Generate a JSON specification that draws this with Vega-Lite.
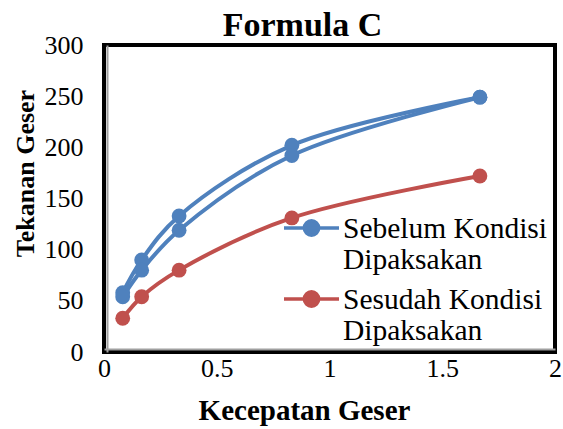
{
  "$schema": "https://vega.github.io/schema/vega-lite/v6.json",
  "width": 451,
  "height": 307,
  "autosize": "none",
  "padding": {"left": 104, "top": 45, "right": 8, "bottom": 77},
  "background": "white",
  "title": {
    "text": "Formula C",
    "font": "Liberation Serif",
    "fontSize": 34,
    "fontWeight": "bold",
    "color": "black",
    "dx": -27,
    "dy": 17,
    "offset": 6
  },
  "config": {
    "view": {"stroke": "black", "strokeWidth": 4},
    "font": "Liberation Serif"
  },
  "data": {
    "values": [
      {"kecepatan": 0.083, "tekanan": 58, "seri": "Sebelum Kondisi Dipaksakan", "jalur": "b1"},
      {"kecepatan": 0.167, "tekanan": 90, "seri": "Sebelum Kondisi Dipaksakan", "jalur": "b1"},
      {"kecepatan": 0.333, "tekanan": 133, "seri": "Sebelum Kondisi Dipaksakan", "jalur": "b1"},
      {"kecepatan": 0.833, "tekanan": 202, "seri": "Sebelum Kondisi Dipaksakan", "jalur": "b1"},
      {"kecepatan": 1.667, "tekanan": 249, "seri": "Sebelum Kondisi Dipaksakan", "jalur": "b1"},
      {"kecepatan": 0.083, "tekanan": 54, "seri": "Sebelum Kondisi Dipaksakan", "jalur": "b2"},
      {"kecepatan": 0.167, "tekanan": 80, "seri": "Sebelum Kondisi Dipaksakan", "jalur": "b2"},
      {"kecepatan": 0.333, "tekanan": 119, "seri": "Sebelum Kondisi Dipaksakan", "jalur": "b2"},
      {"kecepatan": 0.833, "tekanan": 192, "seri": "Sebelum Kondisi Dipaksakan", "jalur": "b2"},
      {"kecepatan": 1.667, "tekanan": 249, "seri": "Sebelum Kondisi Dipaksakan", "jalur": "b2"},
      {"kecepatan": 0.083, "tekanan": 33, "seri": "Sesudah Kondisi Dipaksakan", "jalur": "r1"},
      {"kecepatan": 0.167, "tekanan": 54, "seri": "Sesudah Kondisi Dipaksakan", "jalur": "r1"},
      {"kecepatan": 0.333, "tekanan": 80, "seri": "Sesudah Kondisi Dipaksakan", "jalur": "r1"},
      {"kecepatan": 0.833, "tekanan": 131, "seri": "Sesudah Kondisi Dipaksakan", "jalur": "r1"},
      {"kecepatan": 1.667, "tekanan": 172, "seri": "Sesudah Kondisi Dipaksakan", "jalur": "r1"}
    ]
  },
  "encoding": {
    "x": {
      "field": "kecepatan",
      "type": "quantitative",
      "scale": {"domain": [0, 2], "nice": false, "zero": true},
      "axis": {
        "title": "Kecepatan Geser",
        "values": [0, 0.5, 1, 1.5, 2],
        "format": "~g",
        "grid": false,
        "offset": -3,
        "domain": true,
        "domainColor": "#a0a0a0",
        "domainWidth": 2,
        "ticks": false,
        "labelPadding": 6,
        "labelFont": "Liberation Serif",
        "labelFontSize": 26,
        "labelColor": "black",
        "labelFlush": false,
        "titleFont": "Liberation Serif",
        "titleFontSize": 29,
        "titleFontWeight": "bold",
        "titleColor": "black",
        "titleX": 200,
        "titleY": 70,
        "titleBaseline": "alphabetic",
        "titleAlign": "center"
      }
    },
    "y": {
      "field": "tekanan",
      "type": "quantitative",
      "scale": {"domain": [0, 300], "nice": false},
      "axis": {
        "title": "Tekanan Geser",
        "values": [0, 50, 100, 150, 200, 250, 300],
        "grid": false,
        "offset": -3,
        "domain": true,
        "domainColor": "#a0a0a0",
        "domainWidth": 2,
        "ticks": false,
        "labelPadding": 24,
        "labelFont": "Liberation Serif",
        "labelFontSize": 26,
        "labelColor": "black",
        "labelFlush": false,
        "titleFont": "Liberation Serif",
        "titleFontSize": 26,
        "titleFontWeight": "bold",
        "titleColor": "black",
        "titleAngle": -90,
        "titleX": -74,
        "titleY": 128,
        "titleBaseline": "alphabetic",
        "titleAlign": "center"
      }
    },
    "color": {
      "field": "seri",
      "type": "nominal",
      "scale": {
        "domain": ["Sebelum Kondisi Dipaksakan", "Sesudah Kondisi Dipaksakan"],
        "range": ["#4F81BD", "#C0504D"]
      },
      "legend": {
        "title": null,
        "orient": "none",
        "legendX": 178,
        "legendY": 170,
        "padding": 0,
        "symbolType": "M-1,0L1,0M0.26,0A0.26,0.26,0,1,1,-0.26,0A0.26,0.26,0,1,1,0.26,0Z",
        "symbolSize": 3025,
        "symbolStrokeWidth": 3.5,
        "symbolOpacity": 1,
        "labelFont": "Liberation Serif",
        "labelFontSize": 29.5,
        "labelColor": "black",
        "labelLimit": 400,
        "labelOffset": 2,
        "labelBaseline": "alphabetic",
        "rowPadding": 9,
        "labelExpr": "datum.value == 'Sebelum Kondisi Dipaksakan' ? ['Sebelum Kondisi', 'Dipaksakan'] : ['Sesudah Kondisi', 'Dipaksakan']",
        "encode": {
          "symbols": {
            "update": {
              "fill": {"scale": "color", "field": "value"},
              "stroke": {"scale": "color", "field": "value"},
              "y": {"value": 13}
            }
          },
          "labels": {
            "update": {
              "lineHeight": {"value": 31},
              "y": {"value": 23}
            }
          }
        }
      }
    }
  },
  "layer": [
    {
      "mark": {"type": "line", "interpolate": "catmull-rom", "strokeWidth": 4},
      "encoding": {"detail": {"field": "jalur", "type": "nominal"}}
    },
    {
      "mark": {"type": "point", "filled": true, "size": 220, "opacity": 1, "shape": "circle"}
    }
  ]
}
